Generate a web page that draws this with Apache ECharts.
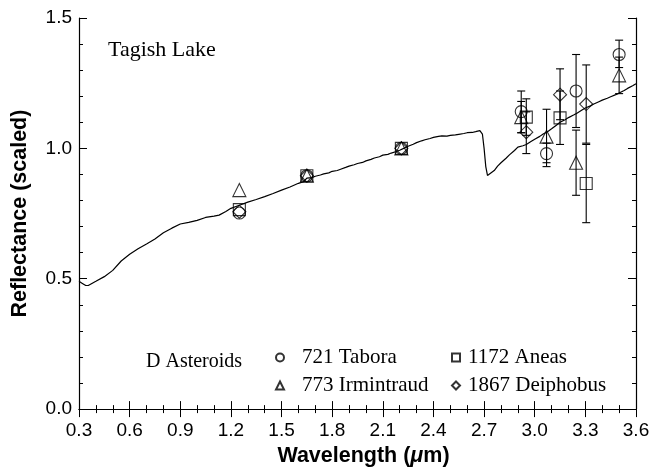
<!DOCTYPE html>
<html>
<head>
<meta charset="utf-8">
<script src="https://cdn.jsdelivr.net/npm/echarts@6/dist/echarts.min.js"></script>
<style>html,body{margin:0;padding:0;background:#fff}#c{width:654px;height:472px}</style>
</head>
<body>
<div id="c"></div>
<script>
// Tagish Lake spectrum [wavelength (um), reflectance]
const spectrum = [
 [0.30,0.490],[0.32,0.482],[0.34,0.474],[0.355,0.474],[0.40,0.490],[0.45,0.508],[0.50,0.532],
 [0.55,0.568],[0.60,0.594],[0.65,0.615],[0.70,0.633],[0.75,0.652],[0.80,0.676],[0.85,0.694],
 [0.90,0.710],[0.95,0.716],[1.00,0.724],[1.05,0.735],[1.10,0.740],[1.13,0.744],[1.17,0.758],
 [1.20,0.770],[1.25,0.782],[1.30,0.794],[1.35,0.804],[1.40,0.815],[1.45,0.827],[1.50,0.840],
 [1.55,0.852],[1.60,0.866],[1.63,0.872],[1.65,0.886],[1.68,0.888],[1.70,0.893],[1.73,0.898],
 [1.75,0.902],[1.78,0.906],[1.80,0.912],[1.83,0.915],[1.85,0.920],[1.88,0.927],[1.90,0.932],
 [1.93,0.937],[1.95,0.942],[1.98,0.946],[2.00,0.952],[2.03,0.958],[2.05,0.963],[2.08,0.968],
 [2.10,0.974],[2.13,0.977],[2.15,0.982],[2.18,0.988],[2.20,0.993],[2.23,1.002],[2.25,1.008],
 [2.28,1.016],[2.30,1.022],[2.33,1.029],[2.35,1.033],[2.38,1.038],[2.40,1.042],[2.43,1.046],
 [2.45,1.048],[2.48,1.047],[2.50,1.050],[2.53,1.052],[2.55,1.054],[2.58,1.057],[2.60,1.060],
 [2.63,1.061],[2.65,1.064],[2.675,1.068],[2.69,1.055],[2.70,1.000],[2.71,0.930],[2.72,0.896],
 [2.73,0.893],[2.76,0.915],[2.78,0.932],[2.80,0.945],[2.83,0.962],[2.85,0.975],[2.88,0.992],
 [2.90,1.005],[2.93,1.010],[2.95,1.015],[2.98,1.027],[3.00,1.035],[3.03,1.046],[3.05,1.055],
 [3.08,1.066],[3.10,1.075],[3.13,1.090],[3.15,1.100],[3.18,1.110],[3.20,1.118],[3.23,1.128],
 [3.25,1.135],[3.28,1.147],[3.30,1.155],[3.33,1.163],[3.35,1.170],[3.38,1.179],[3.40,1.185],
 [3.43,1.192],[3.45,1.198],[3.48,1.206],[3.50,1.212],[3.53,1.222],[3.55,1.230],[3.58,1.240],[3.60,1.248]
];

// asteroid points [wavelength, reflectance]
const tabora     = [[1.25,0.752],[1.65,0.895],[2.21,1.0],[2.92,1.141],[3.07,0.98],[3.245,1.22],[3.50,1.36]];
const irmintraud = [[1.25,0.84],[1.65,0.895],[2.21,1.0],[2.92,1.12],[3.07,1.045],[3.245,0.945],[3.50,1.28]];
const aneas      = [[1.25,0.765],[1.65,0.895],[2.21,1.0],[2.95,1.12],[3.15,1.117],[3.305,0.865]];
const deiphobus  = [[1.25,0.757],[1.65,0.895],[2.21,1.0],[2.95,1.062],[3.15,1.206],[3.305,1.17]];

// error bars [wavelength, low, high]
const taboraErr     = [[2.92,1.06,1.22],[3.07,0.945,1.02],[3.245,1.08,1.36],[3.50,1.31,1.415]];
const irmintraudErr = [[2.92,1.06,1.18],[3.07,0.93,1.15],[3.245,0.82,1.07],[3.50,1.21,1.35]];
const aneasErr      = [[2.95,1.05,1.19],[3.15,1.015,1.22],[3.305,0.715,1.015]];
const deiphobusErr  = [[2.95,0.98,1.14],[3.15,1.11,1.305],[3.305,1.02,1.32]];

const xTicks = {min:0.3, max:3.6, interval:0.3};
const yTicks = {min:0, max:1.5, interval:0.5};

const chart = echarts.init(document.getElementById('c'));
const black = '#000';
const tickFont = 'Liberation Sans, Arial, sans-serif';
const serif = 'Liberation Serif, Times New Roman, serif';

function errSeries(name, data){
  return {
    name: name, type:'custom', data: data, z: 3,
    renderItem: function(params, api){
      const x = api.value(0), lo = api.value(1), hi = api.value(2);
      const p1 = api.coord([x, hi]), p2 = api.coord([x, lo]);
      const w = 4;
      const st = {stroke:black, lineWidth:1.1};
      return {type:'group', children:[
        {type:'line', shape:{x1:p1[0],y1:p1[1],x2:p2[0],y2:p2[1]}, style:st},
        {type:'line', shape:{x1:p1[0]-w,y1:p1[1],x2:p1[0]+w,y2:p1[1]}, style:st},
        {type:'line', shape:{x1:p2[0]-w,y1:p2[1],x2:p2[0]+w,y2:p2[1]}, style:st}
      ]};
    }
  };
}
function ptSeries(name, data, symbol, size){
  return {
    name: name, type:'scatter', data: data, symbol: symbol, symbolSize: size, z: 4,
    itemStyle:{color:'transparent', borderColor:black, borderWidth:1.1},
    emphasis:{disabled:true}
  };
}

const axisCommonX = {
  type:'value', min:xTicks.min, max:xTicks.max, interval:xTicks.interval,
  axisLine:{show:true, lineStyle:{color:black, width:1.2}},
  axisTick:{show:true, inside:true, length:8, lineStyle:{color:black}},
  minorTick:{show:true, splitNumber:3, length:4, lineStyle:{color:black}},
  splitLine:{show:false}, minorSplitLine:{show:false}
};
const axisCommonY = {
  type:'value', min:yTicks.min, max:yTicks.max, interval:yTicks.interval,
  axisLine:{show:true, lineStyle:{color:black, width:1.2}},
  axisTick:{show:true, inside:true, length:8, lineStyle:{color:black}},
  minorTick:{show:true, splitNumber:5, length:4, lineStyle:{color:black}},
  splitLine:{show:false}, minorSplitLine:{show:false}
};
const legendText = {fontFamily:serif, fontSize:21, color:black, lineHeight:20};

chart.setOption({
  animation:false,
  backgroundColor:'#fff',
  grid:{left:79, right:18, top:18, bottom:62},
  xAxis:[
    Object.assign({}, axisCommonX, {
      position:'bottom',
      axisLabel:{fontSize:19, color:black, fontFamily:tickFont, margin:12, formatter:v=>v.toFixed(1)},
      name:'{b|Wavelength (}{i|μ}{b|m)}', nameLocation:'middle', nameGap:32,
      nameTextStyle:{padding:[0,0,0,12], rich:{
        b:{fontSize:21.5, fontWeight:'bold', fontFamily:tickFont, color:black},
        i:{fontSize:21.5, fontWeight:'bold', fontStyle:'italic', fontFamily:tickFont, color:black}
      }}
    }),
    Object.assign({}, axisCommonX, {position:'top', axisLabel:{show:false}})
  ],
  yAxis:[
    Object.assign({}, axisCommonY, {
      position:'left',
      axisLabel:{fontSize:19, color:black, fontFamily:tickFont, margin:7, formatter:v=>v.toFixed(1)},
      name:'Reflectance (scaled)', nameLocation:'middle', nameGap:48, nameRotate:90,
      nameTextStyle:{fontSize:21.5, fontWeight:'bold', fontFamily:tickFont, color:black}
    }),
    Object.assign({}, axisCommonY, {position:'right', axisLabel:{show:false}})
  ],
  legend:[
    {left:275, top:347, padding:0, orient:'vertical', itemGap:7, itemWidth:8, itemHeight:8,
     data:['721 Tabora','773 Irmintraud'],
     textStyle:Object.assign({padding:[0,0,0,13]}, legendText), selectedMode:false},
    {left:451, top:347, padding:0, orient:'vertical', itemGap:7, itemWidth:8, itemHeight:8,
     data:['1172 Aneas','1867 Deiphobus'],
     textStyle:Object.assign({padding:[0,0,0,3]}, legendText), selectedMode:false}
  ],
  graphic:[
    {type:'text', left:108, top:39, style:{text:'Tagish Lake', font:'22px '+serif, fill:black}},
    {type:'text', left:146, top:352, style:{text:'D Asteroids', font:'20px '+serif, fill:black}}
  ],
  series:[
    {name:'Tagish Lake', type:'line', data:spectrum, showSymbol:false, z:2,
     lineStyle:{color:black, width:1.2}, emphasis:{disabled:true}},
    errSeries('Tabora err', taboraErr),
    errSeries('Irmintraud err', irmintraudErr),
    errSeries('Aneas err', aneasErr),
    errSeries('Deiphobus err', deiphobusErr),
    ptSeries('721 Tabora', tabora, 'circle', 12),
    ptSeries('773 Irmintraud', irmintraud, 'triangle', 13),
    ptSeries('1172 Aneas', aneas, 'rect', 12),
    ptSeries('1867 Deiphobus', deiphobus, 'diamond', 13)
  ]
});
</script>
</body>
</html>
